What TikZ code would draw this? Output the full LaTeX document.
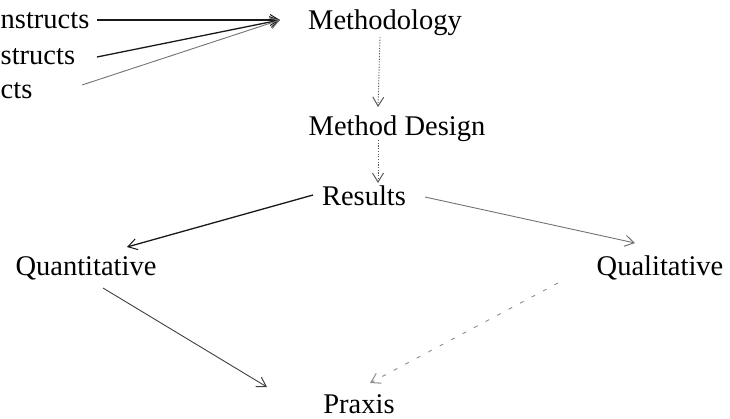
\documentclass[tikz,border=0pt]{standalone}
\usepackage{fontspec}
\setmainfont{Liberation Serif}
\usetikzlibrary{arrows.meta}
\tikzset{
  lbl/.style={inner sep=0pt, font=\fontsize{28.5}{34}\selectfont, text=black},
  tipstyle/.style={-{Straight Barb[length=9pt,width=11pt,line width=1pt]}},
  darkarrow/.style={tipstyle, draw=black!90, line width=1.3pt},
  greyarrow/.style={tipstyle, draw=black!55, line width=0.9pt},
  dotarrow/.style={tipstyle, draw=black!65, line width=0.9pt, dash pattern=on 1.2pt off 1.5pt},
  dasharrow/.style={tipstyle, draw=black!45, line width=0.9pt, dash pattern=on 4pt off 9pt},
}
\begin{document}
\begin{tikzpicture}[x=1pt,y=-1pt]
\useasboundingbox (0,0) rectangle (730,418);
% labels at left edge
\node[lbl, anchor=base west] (c1) at (0.5,28) {nstructs};
\node[lbl, anchor=base west] (c2) at (0.5,64) {structs};
\node[lbl, anchor=base west] (c3) at (0.5,98) {cts};
% main nodes
\node[lbl, anchor=base] (meth) at (385,29) {Methodology};
\node[lbl, anchor=base] (design) at (397,135) {Method Design};
\node[lbl, anchor=base] (res) at (364,205) {Results};
\node[lbl, anchor=base] (quant) at (86,275) {Quantitative};
\node[lbl, anchor=base] (qual) at (660,275) {Qualitative};
\node[lbl, anchor=base] (praxis) at (359,413) {Praxis};
% connectors
\draw[darkarrow] ([xshift=96.5pt,yshift=8pt]c1.base west) -- ([xshift=-105pt,yshift=9pt]meth.base);
\draw[darkarrow] ([xshift=96.5pt,yshift=7pt]c2.base west) -- ([xshift=-105pt,yshift=9pt]meth.base);
\draw[greyarrow] ([xshift=81.5pt,yshift=13pt]c3.base west) -- ([xshift=-105pt,yshift=9pt]meth.base);
\draw[dotarrow] ([xshift=-5pt,yshift=-8pt]meth.base) -- ([xshift=-19pt,yshift=28pt]design.base);
\draw[dotarrow] ([xshift=-19pt,yshift=-5pt]design.base) -- ([xshift=14pt,yshift=22pt]res.base);
\draw[darkarrow] ([xshift=-51pt,yshift=10pt]res.base) -- ([xshift=41pt,yshift=28pt]quant.base);
\draw[greyarrow] ([xshift=61pt,yshift=8pt]res.base) -- ([xshift=-25pt,yshift=32pt]qual.base);
\draw[greyarrow, draw=black!75] ([xshift=17pt,yshift=-13pt]quant.base) -- ([xshift=-92pt,yshift=26pt]praxis.base);
\draw[dasharrow] ([xshift=-102pt,yshift=-8pt]qual.base) -- ([xshift=11pt,yshift=30pt]praxis.base);
\end{tikzpicture}
\end{document}
